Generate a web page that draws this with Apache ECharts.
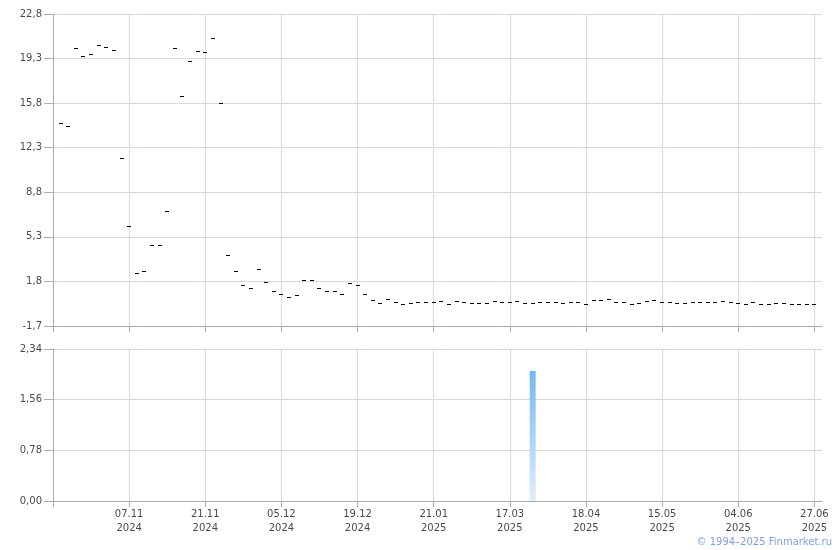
<!DOCTYPE html>
<html>
<head>
<meta charset="utf-8">
<script src="https://cdn.jsdelivr.net/npm/echarts@6/dist/echarts.min.js"></script>
<style>
html,body{margin:0;padding:0;background:#fff;}
#chart{width:840px;height:550px;}
</style>
</head>
<body>
<div id="chart"></div>
<script>
// Point index categories (0 and 101 are empty padding slots)
const pointCount = 102;
const categories = Array.from({length: pointCount}, (_, i) => String(i));

// Date tick labels at every 10th point
const tickIndex = [10, 20, 30, 40, 50, 60, 70, 80, 90, 100];
const tickLabels = ['07.11\n2024', '21.11\n2024', '05.12\n2024', '19.12\n2024', '21.01\n2025',
                    '17.03\n2025', '18.04\n2025', '15.05\n2025', '04.06\n2025', '27.06\n2025'];

// Price level ticks (top panel)
const priceTickLabels = ['-1,7', '1,8', '5,3', '8,8', '12,3', '15,8', '19,3', '22,8'];
// Volume ticks (bottom panel)
const volTickLabels = ['0,00', '0,78', '1,56', '2,34'];

// Price marks, points 1..100
const prices = [
  14.23, 13.99, 20.13, 19.50, 19.68, 20.39, 20.20, 19.97, 11.48, 6.13,
  2.44, 2.62, 4.64, 4.64, 7.31, 20.13, 16.35, 19.10, 19.89, 19.81,
  20.91, 15.80, 3.88, 2.62, 1.50, 1.31, 2.78, 1.73, 1.02, 0.79,
  0.58, 0.71, 1.91, 1.91, 1.28, 1.02, 1.02, 0.79, 1.65, 1.50,
  0.79, 0.32, 0.08, 0.39, 0.16, 0.00, 0.08, 0.16, 0.16, 0.16,
  0.24, 0.00, 0.24, 0.16, 0.08, 0.08, 0.08, 0.24, 0.16, 0.16,
  0.24, 0.08, 0.08, 0.16, 0.16, 0.16, 0.08, 0.16, 0.16, 0.00,
  0.32, 0.32, 0.39, 0.16, 0.16, 0.00, 0.08, 0.24, 0.32, 0.16,
  0.16, 0.08, 0.08, 0.16, 0.16, 0.16, 0.16, 0.24, 0.16, 0.08,
  0.00, 0.16, 0.00, 0.00, 0.08, 0.08, 0.00, 0.00, 0.00, 0.00
];

// Volume: only one traded bar
const volumePoints = [63];
const volumeValues = [2.0];

const priceData = [];
prices.forEach((p, k) => priceData.push([k + 1, p]));
const volumeData = categories.map((c, i) => {
  const k = volumePoints.indexOf(i);
  return k >= 0 ? volumeValues[k] : null;
});

const FONT = 'DejaVu Sans';
const TXT = '#4a4a4a';
const GRID = '#d6d9dd';
const AXIS = '#a9acb4';
const isTick = (i) => tickIndex.indexOf(i) >= 0;

const chart = echarts.init(document.getElementById('chart'), null, {renderer: 'canvas'});

function xAxisCfg(gridIndex, showLabels) {
  return {
    type: 'category', gridIndex, data: categories, boundaryGap: false,
    axisLine: {onZero: false, lineStyle: {color: AXIS, width: 1}},
    axisTick: {show: true, length: 6, interval: (i) => i === 0 || isTick(i), lineStyle: {color: AXIS}},
    splitLine: {show: true, interval: (i) => isTick(i), lineStyle: {color: GRID, width: 1}},
    axisLabel: {
      show: showLabels, interval: (i) => isTick(i), margin: 6,
      fontFamily: FONT, fontSize: 10, color: TXT, lineHeight: 14,
      formatter: (v, i) => { const k = tickIndex.indexOf(i); return k >= 0 ? tickLabels[k] : ''; }
    }
  };
}

chart.setOption({
  animation: false,
  backgroundColor: '#fff',
  grid: [
    {left: 53, right: 18, top: 14, height: 312},
    {left: 53, right: 18, top: 349, height: 152}
  ],
  xAxis: [xAxisCfg(0, false), xAxisCfg(1, true)],
  yAxis: [
    // data scale for prices (true values)
    {type: 'value', gridIndex: 0, min: -1.7, max: 22.8, show: false, position: 'left'},
    // label/grid overlay with identical pixel mapping, offset by the min
    {
      type: 'value', gridIndex: 0, min: 0, max: 24.5, interval: 3.5, position: 'left',
      axisLine: {show: true, lineStyle: {color: AXIS}},
      axisTick: {show: true, length: 9, lineStyle: {color: AXIS}},
      splitLine: {show: true, lineStyle: {color: GRID}},
      axisLabel: {
        margin: 11, fontFamily: FONT, fontSize: 10, color: TXT,
        formatter: (v) => priceTickLabels[Math.round(v / 3.5)] || ''
      }
    },
    {
      type: 'value', gridIndex: 1, min: 0, max: 2.34, interval: 0.78, position: 'left',
      axisLine: {show: true, lineStyle: {color: AXIS}},
      axisTick: {show: true, length: 9, lineStyle: {color: AXIS}},
      splitLine: {show: true, lineStyle: {color: GRID}},
      axisLabel: {
        margin: 11, fontFamily: FONT, fontSize: 10, color: TXT,
        formatter: (v) => volTickLabels[Math.round(v / 0.78)] || ''
      }
    }
  ],
  series: [
    {
      type: 'custom', xAxisIndex: 0, yAxisIndex: 0, data: priceData,
      encode: {x: 0, y: 1}, silent: true,
      renderItem: function (params, api) {
        const pt = api.coord([api.value(0), api.value(1)]);
        const x = Math.round(pt[0]);
        const y = Math.round(pt[1]) + 0.5;
        return {
          type: 'line',
          shape: {x1: x - 2, y1: y, x2: x + 2, y2: y},
          style: {stroke: '#000', lineWidth: 1}
        };
      }
    },
    {
      type: 'bar', xAxisIndex: 1, yAxisIndex: 2, data: volumeData, barWidth: 6,
      itemStyle: {
        color: new echarts.graphic.LinearGradient(0, 0, 0, 1, [
          {offset: 0, color: '#74b8f0'},
          {offset: 1, color: '#e0eefa'}
        ])
      },
      silent: true
    }
  ],
  graphic: [{
    type: 'text', right: 8, top: 537,
    style: {text: '© 1994–2025 Finmarket.ru', font: '10px "DejaVu Sans"', fill: '#7f9fe0'}
  }]
});
</script>
</body>
</html>
